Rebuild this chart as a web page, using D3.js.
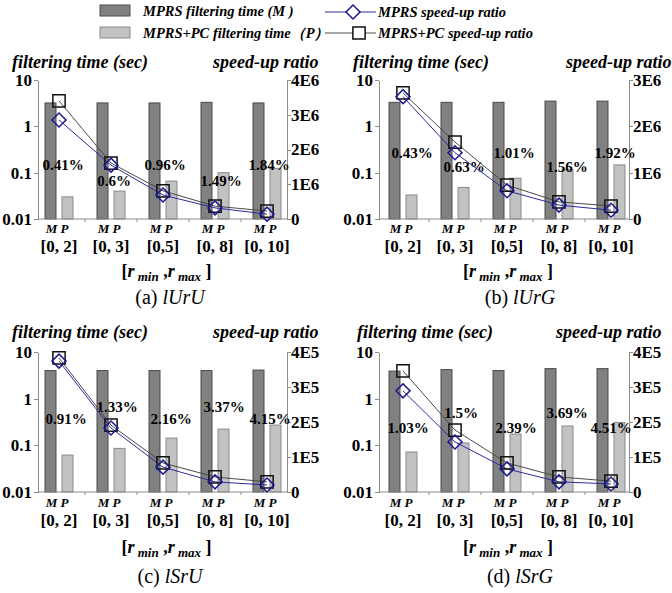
<!DOCTYPE html>
<html>
<head>
<meta charset="UTF-8">
<title>MPRS filtering time and speed-up ratio</title>
<script src="https://d3js.org/d3.v7.min.js"></script>
<style>
  body { margin: 0; background: #fff; }
  svg text { font-family: "Liberation Serif", "Times New Roman", serif; font-weight: bold; fill: #000; }
  .it { font-style: italic; }
  .axis path, .axis line { stroke: #8c8c8c; shape-rendering: crispEdges; }
  .barM { fill: #818181; stroke: #4a4a4a; stroke-width: 1; }
  .barP { fill: #c2c2c2; stroke: #8a8a8a; stroke-width: 1; }
</style>
</head>
<body>
<svg width="672" height="593"></svg>
<script>
// categories on the x axis
const categories = ["[0, 2]", "[0, 3]", "[0,5]", "[0, 8]", "[0, 10]"];

// left axis (log) ticks
const timeTicks = [0.01, 0.1, 1, 10];
const timeTickLabels = ["0.01", "0.1", "1", "10"];

// (a) lUrU
const timeM_a = [3.2, 3.2, 3.2, 3.3, 3.2];
const timeP_a = [0.030, 0.040, 0.066, 0.100, 0.124];
const ratioM_a = [2.85e6, 1.55e6, 0.69e6, 0.32e6, 0.14e6];
const ratioP_a = [3.40e6, 1.61e6, 0.81e6, 0.37e6, 0.23e6];
const pct_a = ["0.41%", "0.6%", "0.96%", "1.49%", "1.84%"];
const ratioTicks_a = [0, 1e6, 2e6, 3e6, 4e6];
const ratioLabels_a = ["0", "1E6", "2E6", "3E6", "4E6"];

// (b) lUrG
const timeM_b = [3.3, 3.3, 3.3, 3.5, 3.5];
const timeP_b = [0.033, 0.048, 0.076, 0.118, 0.147];
const ratioM_b = [2.64e6, 1.43e6, 0.61e6, 0.30e6, 0.19e6];
const ratioP_b = [2.72e6, 1.66e6, 0.73e6, 0.37e6, 0.28e6];
const pct_b = ["0.43%", "0.63%", "1.01%", "1.56%", "1.92%"];
const ratioTicks_b = [0, 1e6, 2e6, 3e6];
const ratioLabels_b = ["0", "1E6", "2E6", "3E6"];

// (c) lSrU
const timeM_c = [4.0, 4.0, 4.0, 4.0, 4.1];
const timeP_c = [0.062, 0.086, 0.143, 0.223, 0.272];
const ratioM_c = [3.74e5, 1.83e5, 0.71e5, 0.29e5, 0.20e5];
const ratioP_c = [3.83e5, 1.91e5, 0.83e5, 0.43e5, 0.29e5];
const pct_c = ["0.91%", "1.33%", "2.16%", "3.37%", "4.15%"];
const ratioTicks_c = [0, 1e5, 2e5, 3e5, 4e5];
const ratioLabels_c = ["0", "1E5", "2E5", "3E5", "4E5"];

// (d) lSrG
const timeM_d = [3.9, 4.2, 4.0, 4.4, 4.4];
const timeP_d = [0.072, 0.112, 0.175, 0.26, 0.31];
const ratioM_d = [2.89e5, 1.43e5, 0.66e5, 0.29e5, 0.23e5];
const ratioP_d = [3.46e5, 1.77e5, 0.83e5, 0.43e5, 0.31e5];
const pct_d = ["1.03%", "1.5%", "2.39%", "3.69%", "4.51%"];
const ratioTicks_d = ratioTicks_c;
const ratioLabels_d = ratioLabels_c;

const svg = d3.select("svg");

// layout of the 2x2 grid
const cols = [
  { lx: 38, rx: 287, c1: 59, capX: 170 },
  { lx: 379, rx: 629, c1: 403, capX: 520 }
];
const rows = [
  { top: 80, bottom: 219, title: 62, mp: 228, cat: 246, rl: 271, cap: 297 },
  { top: 352, bottom: 492, title: 332, mp: 502, cat: 520, rl: 547, cap: 576 }
];

const panels = [
  { letter: "a", name: "lUrU", col: 0, row: 0, tM: timeM_a, tP: timeP_a, rM: ratioM_a, rP: ratioP_a,
    pct: pct_a, rTicks: ratioTicks_a, rLabels: ratioLabels_a,
    pctY: [165, 181], pctDx: [4, 3, 2, 6, 2], lTitleX: 12, rTitleX: 213 },
  { letter: "b", name: "lUrG", col: 1, row: 0, tM: timeM_b, tP: timeP_b, rM: ratioM_b, rP: ratioP_b,
    pct: pct_b, rTicks: ratioTicks_b, rLabels: ratioLabels_b,
    pctY: [153, 167], pctDx: [9, 9, 7, 8, 4], lTitleX: 353, rTitleX: 566 },
  { letter: "c", name: "lSrU", col: 0, row: 1, tM: timeM_c, tP: timeP_c, rM: ratioM_c, rP: ratioP_c,
    pct: pct_c, rTicks: ratioTicks_c, rLabels: ratioLabels_c,
    pctY: [419, 407], pctDx: [7, 6, 8, 9, 3], lTitleX: 12, rTitleX: 213 },
  { letter: "d", name: "lSrG", col: 1, row: 1, tM: timeM_d, tP: timeP_d, rM: ratioM_d, rP: ratioP_d,
    pct: pct_d, rTicks: ratioTicks_d, rLabels: ratioLabels_d,
    pctY: [428, 413], pctDx: [5, 6, 9, 8, 0], lTitleX: 357, rTitleX: 556 }
];

const barW = 11, barGap = 6, step = 52;
const diamond = d3.symbol(d3.symbolSquare, 98)();
const square = d3.symbol(d3.symbolSquare, 150)();

panels.forEach(p => {
  const c = cols[p.col], r = rows[p.row];
  const g = svg.append("g");

  const x = d3.scaleBand().domain(categories)
    .range([c.c1 - step / 2, c.c1 - step / 2 + step * categories.length]);
  const cx = d => x(d) + x.bandwidth() / 2;
  const yT = d3.scaleLog().domain([0.01, 10]).range([r.bottom, r.top]);
  const yR = d3.scaleLinear().domain([0, d3.max(p.rTicks)]).range([r.bottom, r.top]);

  const rowsData = categories.map((cat, i) => ({
    cat, m: p.tM[i], pc: p.tP[i], rm: p.rM[i], rp: p.rP[i], pct: p.pct[i], i
  }));

  // bars
  g.selectAll(".barM").data(rowsData).join("rect").attr("class", "barM")
    .attr("x", d => cx(d.cat) - barGap / 2 - barW)
    .attr("width", barW)
    .attr("y", d => yT(d.m))
    .attr("height", d => yT(0.01) - yT(d.m));
  g.selectAll(".barP").data(rowsData).join("rect").attr("class", "barP")
    .attr("x", d => cx(d.cat) + barGap / 2)
    .attr("width", barW)
    .attr("y", d => yT(d.pc))
    .attr("height", d => yT(0.01) - yT(d.pc));

  // axes
  g.append("g").attr("class", "axis")
    .attr("transform", `translate(${c.lx},0)`)
    .call(d3.axisLeft(yT).tickValues(timeTicks)
      .tickFormat((d, i) => timeTickLabels[i]).tickSize(4).tickSizeOuter(0))
    .call(a => a.selectAll("text").attr("x", -6));
  g.append("g").attr("class", "axis")
    .attr("transform", `translate(${c.rx},0)`)
    .call(d3.axisRight(yR).tickValues(p.rTicks)
      .tickFormat((d, i) => p.rLabels[i]).tickSize(4).tickSizeOuter(0))
    .call(a => a.selectAll("text").attr("x", 4));
  g.append("line")
    .attr("x1", c.lx).attr("x2", c.rx)
    .attr("y1", r.bottom).attr("y2", r.bottom)
    .attr("stroke", "#8c8c8c");
  g.selectAll(".xtick").data(categories.slice(1)).join("line")
    .attr("x1", d => x(d)).attr("x2", d => x(d))
    .attr("y1", r.bottom).attr("y2", r.bottom + 3)
    .attr("stroke", "#8c8c8c");

  svg.selectAll(".axis text").attr("fill", "#000").style("font-size", "17px");

  // percentage labels
  g.selectAll(".pct").data(rowsData).join("text")
    .attr("x", d => cx(d.cat) + p.pctDx[d.i])
    .attr("y", d => p.pctY[d.i % 2])
    .attr("dy", "0.35em")
    .attr("text-anchor", "middle")
    .style("font-size", "15px")
    .text(d => d.pct);

  // speed-up ratio lines
  const lineP = d3.line().x(d => cx(d.cat)).y(d => yR(d.rp));
  const lineM = d3.line().x(d => cx(d.cat)).y(d => yR(d.rm));
  g.append("path").datum(rowsData).attr("d", lineP)
    .attr("fill", "none").attr("stroke", "#4a4a4a").attr("stroke-width", 1);
  g.append("path").datum(rowsData).attr("d", lineM)
    .attr("fill", "none").attr("stroke", "#2c2ca0").attr("stroke-width", 1);
  g.selectAll(".sq").data(rowsData).join("path")
    .attr("d", square)
    .attr("transform", d => `translate(${cx(d.cat)},${yR(d.rp)})`)
    .attr("fill", "none").attr("stroke", "#111").attr("stroke-width", 1.5);
  g.selectAll(".dm").data(rowsData).join("path")
    .attr("d", diamond)
    .attr("transform", d => `translate(${cx(d.cat)},${yR(d.rm)}) rotate(45)`)
    .attr("fill", "none").attr("stroke", "#1a1a90").attr("stroke-width", 1.5);

  // category labels
  g.selectAll(".mp").data(categories).join("text")
    .attr("class", "it")
    .attr("x", d => cx(d) - 2).attr("y", r.mp).attr("dy", "0.35em")
    .attr("text-anchor", "middle").style("font-size", "13px")
    .text("M P");
  g.selectAll(".cat").data(categories).join("text")
    .attr("x", d => cx(d)).attr("y", r.cat).attr("dy", "0.35em")
    .attr("text-anchor", "middle").style("font-size", "17px")
    .text(d => d);

  // [r_min ,r_max ]
  const rl = g.append("text")
    .attr("x", (c.lx + c.rx) / 2 + 4).attr("y", r.rl).attr("dy", "0.35em")
    .attr("text-anchor", "middle").style("font-size", "18px");
  rl.append("tspan").text("[");
  rl.append("tspan").attr("class", "it").text("r");
  rl.append("tspan").attr("class", "it").attr("dy", 4).style("font-size", "13px").text(" min");
  rl.append("tspan").attr("dy", -4).text(" ,");
  rl.append("tspan").attr("class", "it").text("r");
  rl.append("tspan").attr("class", "it").attr("dy", 4).style("font-size", "13px").text(" max");
  rl.append("tspan").attr("dy", -4).text("  ]");

  // titles
  g.append("text").attr("class", "it")
    .attr("x", p.lTitleX).attr("y", r.title).attr("dy", "0.35em")
    .style("font-size", "18px").text("filtering time (sec)");
  g.append("text").attr("class", "it")
    .attr("x", p.rTitleX).attr("y", r.title).attr("dy", "0.35em")
    .style("font-size", "18px").text("speed-up ratio");

  // caption
  const cap = g.append("text")
    .attr("x", c.capX).attr("y", r.cap).attr("dy", "0.35em")
    .attr("text-anchor", "middle")
    .style("font-size", "20px").style("font-weight", "normal");
  cap.append("tspan").text(`(${p.letter}) `);
  cap.append("tspan").attr("class", "it").text(p.name);
});

// legend
const legend = svg.append("g");
const barLegend = [
  { label: "MPRS filtering time (M )", cls: "barM", y: 5 },
  { label: "MPRS+PC filtering time（P）", cls: "barP", y: 27 }
];
legend.selectAll("rect").data(barLegend).join("rect")
  .attr("class", d => d.cls)
  .attr("x", 100).attr("y", d => d.y).attr("width", 30).attr("height", 11);
legend.selectAll(".lb").data(barLegend).join("text")
  .attr("class", "it")
  .attr("x", 143).attr("y", d => d.y + 6).attr("dy", "0.35em")
  .style("font-size", "14.5px").text(d => d.label);

const lineLegend = [
  { label: "MPRS speed-up ratio", y: 12, stroke: "#2c2ca0", mark: "dm", mx: 353 },
  { label: "MPRS+PC speed-up ratio", y: 33, stroke: "#4a4a4a", mark: "sq", mx: 359 }
];
lineLegend.forEach(d => {
  legend.append("line").attr("x1", 325).attr("x2", 376)
    .attr("y1", d.y).attr("y2", d.y).attr("stroke", d.stroke);
  legend.append("path")
    .attr("d", d.mark === "dm" ? diamond : square)
    .attr("transform", d.mark === "dm" ? `translate(${d.mx},${d.y}) rotate(45)` : `translate(${d.mx},${d.y})`)
    .attr("fill", "#fff")
    .attr("stroke", d.mark === "dm" ? "#1a1a90" : "#111").attr("stroke-width", 1.5);
  legend.append("text").attr("class", "it")
    .attr("x", 378).attr("y", d.y).attr("dy", "0.35em")
    .style("font-size", "14.5px").text(d.label);
});
</script>
</body>
</html>
